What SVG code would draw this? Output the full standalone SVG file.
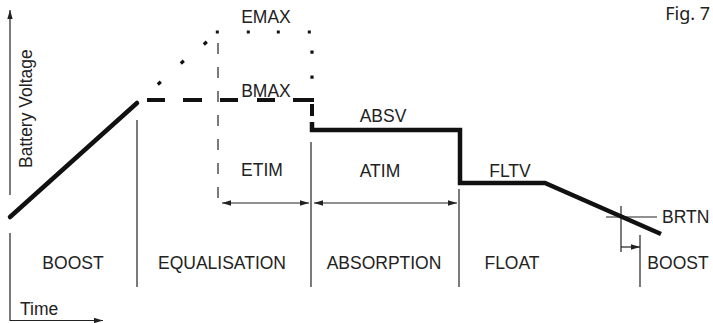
<svg xmlns="http://www.w3.org/2000/svg" width="713" height="323" viewBox="0 0 713 323">
<defs>
<marker id="ah" viewBox="0 0 10 6" refX="10" refY="3" markerWidth="9" markerHeight="5.4" markerUnits="userSpaceOnUse" orient="auto-start-reverse"><path d="M0,0 L10,3 L0,6 z" fill="#222"/></marker>
<style>
.thin{stroke:#222;stroke-width:1.2;fill:none}
.arr{stroke:#222;stroke-width:1.2;fill:none;marker-start:url(#ah);marker-end:url(#ah)}
.thick{stroke:#111;stroke-width:4.5;fill:none}
.dash{stroke:#111;stroke-width:4;fill:none}
.dot{stroke:#111;stroke-width:3.2;fill:none}
.vdash{stroke:#222;stroke-width:1.2;fill:none;stroke-dasharray:11 13}
text{font-family:"Liberation Sans",Arial,sans-serif;font-size:17.5px;fill:#222}
.fig{font-family:"Noto Sans","DejaVu Sans",sans-serif;font-size:18px}
</style>
</defs>
<rect width="713" height="323" fill="#fff"/>
<g id="axes">
<path class="thin" d="M10,195 V10" marker-end="url(#ah)"/>
<path class="thin" d="M10,233 V320.5 H103" marker-end="url(#ah)"/>
<text transform="translate(32,168) rotate(-90)">Battery Voltage</text>
<text x="20" y="315">Time</text>
</g>
<g id="connectors">
<path class="thin" d="M137,120 V287"/>
<path class="thin" d="M311,142 V287"/>
<path class="thin" d="M459,189 V287"/>
<path class="thin" d="M640,235 V287"/>
<path class="thin" d="M621,206 V252"/>
<path class="thin" d="M606,217 H657"/>
<path class="vdash" d="M218,43 V208"/>
<path class="arr" d="M222,203 H309"/>
<path class="arr" d="M314,203 H457"/>
<path class="thin" d="M621,247 H640" marker-end="url(#ah)"/>
</g>
<g id="curve">
<path class="thick" d="M10,217 L137,103" stroke-linecap="round"/>
<path class="dash" d="M147,100 H165 M183,100 H202 M220,100 H238 M257,100 H275 M293,100 H314 M312,104 V116"/>
<path class="thick" d="M312,122 V130 H460 V183 H545 L661,234" stroke-linejoin="miter"/>
<path class="dot" d="M157.8,84.5 L160.8,81.8 M180.8,63.5 L183.8,60.8 M203.8,44.5 L206.8,41.8 M215.8,32 H218.8 M246.8,32 H249.8 M276.8,32 H279.8 M307.8,32 H310.8 M312,50.5 V53.8 M312,75.5 V78.8"/>
</g>
<g id="labels">
<text x="266" y="23" text-anchor="middle">EMAX</text>
<text x="266" y="97" text-anchor="middle">BMAX</text>
<text x="383" y="122" text-anchor="middle">ABSV</text>
<text x="262" y="176" text-anchor="middle">ETIM</text>
<text x="380" y="177" text-anchor="middle">ATIM</text>
<text x="510" y="177" text-anchor="middle">FLTV</text>
<text x="662" y="223">BRTN</text>
<text x="73" y="269" text-anchor="middle">BOOST</text>
<text x="222" y="269" text-anchor="middle">EQUALISATION</text>
<text x="384" y="269" text-anchor="middle">ABSORPTION</text>
<text x="512" y="269" text-anchor="middle">FLOAT</text>
<text x="678" y="269" text-anchor="middle">BOOST</text>
<text class="fig" x="710" y="20" text-anchor="end">Fig. 7</text>
</g>
</svg>
